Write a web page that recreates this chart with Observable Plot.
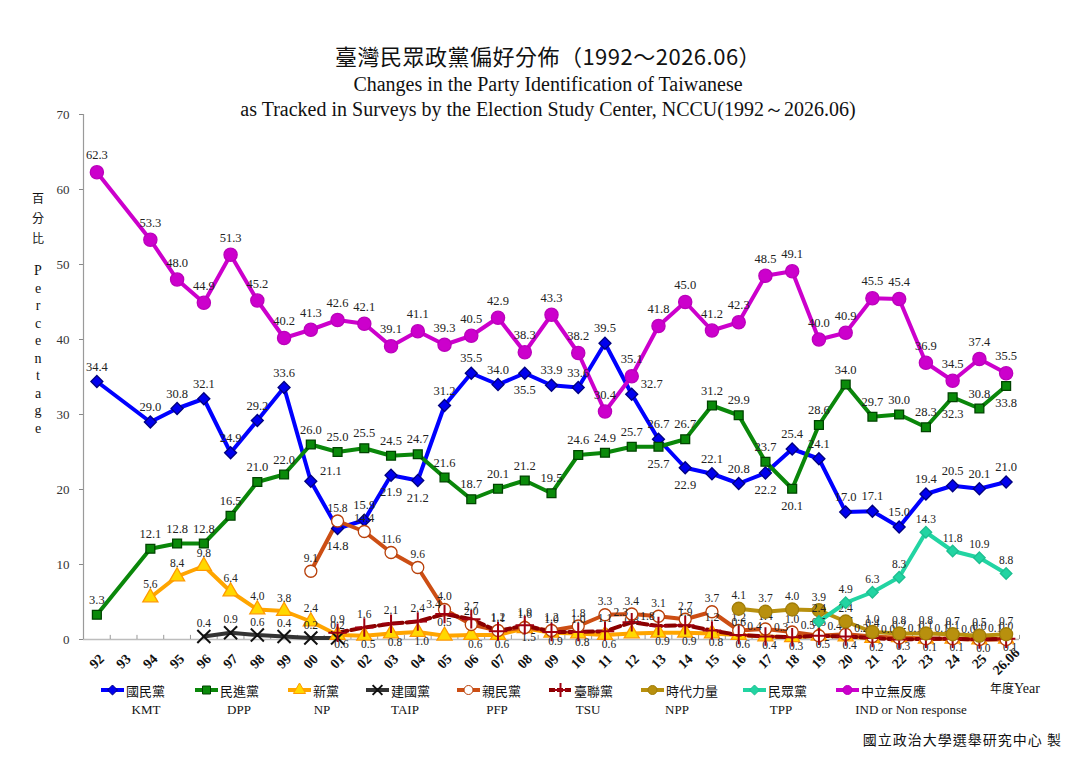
<!DOCTYPE html>
<html>
<head>
<meta charset="utf-8">
<script src="https://cdn.jsdelivr.net/npm/d3@7"></script>
<script src="https://cdn.jsdelivr.net/npm/@observablehq/plot@0.6"></script>
<style>
  body { margin: 0; background: #fff; }
  #wrap { position: relative; width: 1080px; height: 764px; overflow: hidden; font-family: "Liberation Serif", "Times New Roman", serif; color: #111; }
  #chart { position: absolute; left: 0; top: 0; }
  .abs { position: absolute; white-space: nowrap; }
  .title { left: 0; width: 1096px; text-align: center; }
  .cjk { font-family: "Noto Sans CJK TC", "Noto Sans CJK SC", sans-serif; }
  .leg { position: absolute; top: 681px; height: 18px; display: flex; align-items: center; font-size: 13px; }
  .legen { position: absolute; top: 702px; font-size: 13px; transform: translateX(-50%); white-space: nowrap; }
</style>
</head>
<body>
<div id="wrap">
  <div id="chart"></div>
  <div class="abs title cjk" style="top:39px;font-size:22px;letter-spacing:0.5px;">臺灣民眾政黨偏好分佈（1992～2026.06）</div>
  <div class="abs title" style="top:73px;font-size:20px;">Changes in the Party Identification of Taiwanese</div>
  <div class="abs title" style="top:96px;font-size:20px;">as Tracked in Surveys by the Election Study Center, NCCU(1992～2026.06)</div>
  <div class="abs cjk" style="left:31px;top:188px;font-size:12px;line-height:20px;text-align:center;width:14px;">百<br>分<br>比</div>
  <div class="abs" style="left:31px;top:262px;font-size:14px;line-height:17.5px;text-align:center;width:14px;">P<br>e<br>r<br>c<br>e<br>n<br>t<br>a<br>g<br>e</div>
  <div class="abs" style="left:990px;top:679px;font-size:14px;"><span class="cjk" style="font-size:12px;">年度</span>Year</div>
  <div id="legend"></div>
  <div class="abs cjk" style="right:18px;top:729px;font-size:14px;letter-spacing:1px;">國立政治大學選舉研究中心 製</div>
</div>
<script>
const N = null;
const cats = ["92","93","94","95","96","97","98","99","00","01","02","03","04","05","06","07","08","09","10","11","12","13","14","15","16","17","18","19","20","21","22","23","24","25","26.06"];

const kmtVals = [34.4,N,29.0,30.8,32.1,24.9,29.2,33.6,21.1,14.8,15.9,21.9,21.2,31.2,35.5,34.0,35.5,33.9,33.6,39.5,32.7,26.7,22.9,22.1,20.8,22.2,25.4,24.1,17.0,17.1,15.0,19.4,20.5,20.1,21.0];
const dppVals = [3.3,N,12.1,12.8,12.8,16.5,21.0,22.0,26.0,25.0,25.5,24.5,24.7,21.6,18.7,20.1,21.2,19.5,24.6,24.9,25.7,25.7,26.7,31.2,29.9,23.7,20.1,28.6,34.0,29.7,30.0,28.3,32.3,30.8,33.8];
const npVals  = [N,N,5.6,8.4,9.8,6.4,4.0,3.8,2.4,0.6,0.5,0.8,1.0,0.5,0.6,0.6,1.5,0.9,0.8,0.6,0.8,0.9,0.9,0.8,0.6,0.4,0.3,0.5,0.4,0.2,0.3,0.1,0.1,0.0,0.1];
const taipVals= [N,N,N,N,0.4,0.9,0.6,0.4,0.2,0.2,N,N,N,N,N,N,N,N,N,N,N,N,N,N,N,N,N,N,N,N,N,N,N,N,N];
const pfpVals = [N,N,N,N,N,N,N,N,9.1,15.8,14.4,11.6,9.6,4.0,2.0,1.2,1.6,1.2,1.8,3.3,3.4,3.1,2.7,3.7,1.2,1.4,1.0,0.5,0.7,0.4,0.2,0.1,0.1,0.0,0.0];
const tsuVals = [N,N,N,N,N,N,N,N,N,0.9,1.6,2.1,2.4,3.4,2.7,1.1,1.9,1.0,1.0,1.1,2.3,1.8,1.9,1.2,0.6,0.4,0.3,0.5,0.4,0.2,0.0,0.1,0.1,0.0,0.1];
const nppVals = [N,N,N,N,N,N,N,N,N,N,N,N,N,N,N,N,N,N,N,N,N,N,N,N,4.1,3.7,4.0,3.9,2.4,1.0,0.8,0.8,0.7,0.5,0.7];
const tppVals = [N,N,N,N,N,N,N,N,N,N,N,N,N,N,N,N,N,N,N,N,N,N,N,N,N,N,N,2.4,4.9,6.3,8.3,14.3,11.8,10.9,8.8];
const indVals = [62.3,N,53.3,48.0,44.9,51.3,45.2,40.2,41.3,42.6,42.1,39.1,41.1,39.3,40.5,42.9,38.3,43.3,38.2,30.4,35.1,41.8,45.0,41.2,42.3,48.5,49.1,40.0,40.9,45.5,45.4,36.9,34.5,37.4,35.5];

const yTicks = [0,10,20,30,40,50,60,70];
// label placement (category lists)
const kmtBelow = ["01","03","04","08","14","17"];
const kmtRight = ["00","12"];
const dppBelow = ["13","18","24","26.06"];
const npBelow = ["01","02","03","04","06","07","08","09","10","11","13","14","15","16","17","18","19","20","21","22","23","24","25","26.06"];
const tsuLeft = ["05","12","13","17","18","19","20","21","22","23","24","25","26.06"];

const series = [
  {key:"KMT",  zh:"國民黨",     en:"KMT",  vals:kmtVals,  line:"#0000FF", symbol:"diamond2", fill:"#0000EE", stroke:"#000080", r:5.4, big:true,  below:kmtBelow, right:kmtRight},
  {key:"DPP",  zh:"民進黨",     en:"DPP",  vals:dppVals,  line:"#0A870A", symbol:"square",   fill:"#0A8A0A", stroke:"#004400", r:5.0, big:true,  below:dppBelow},
  {key:"NP",   zh:"新黨",       en:"NP",   vals:npVals,   line:"#FFA500", symbol:"triangle", fill:"#FFD800", stroke:"#FF9900", r:5.6, big:false, below:npBelow},
  {key:"TAIP", zh:"建國黨",     en:"TAIP", vals:taipVals, line:"#333333", symbol:"times",    fill:"none",    stroke:"#111111", r:6.0, big:false},
  {key:"PFP",  zh:"親民黨",     en:"PFP",  vals:pfpVals,  line:"#CC4E14", symbol:"circle",   fill:"#FFFFFF", stroke:"#B8400A", r:6.0, big:false},
  {key:"TSU",  zh:"臺聯黨",     en:"TSU",  vals:tsuVals,  line:"#8B0000", symbol:"plus",     fill:"none",    stroke:"#A00010", r:6.0, big:false, left:tsuLeft, dash:"10,4"},
  {key:"NPP",  zh:"時代力量",   en:"NPP",  vals:nppVals,  line:"#B8900E", symbol:"circle",   fill:"#B8900E", stroke:"#A07C08", r:6.5, big:false},
  {key:"TPP",  zh:"民眾黨",     en:"TPP",  vals:tppVals,  line:"#22D4A2", symbol:"diamond2", fill:"#22D4A2", stroke:"#1CBF90", r:5.2, big:false},
  {key:"IND",  zh:"中立無反應", en:"IND or Non response", vals:indVals, line:"#CC00CC", symbol:"circle", fill:"#CC00CC", stroke:"#BB00BB", r:6.6, big:true}
];

const boundaries = cats.map((c, i) => i + 0.5);
const catRows = cats.map((c, i) => ({c, i}));

const marks = [
  Plot.ruleY([0], {stroke: "#BDBDBD", strokeWidth: 1.5}),
  Plot.ruleX(boundaries, {x: d => d, y1: 0, y2: 0.55, stroke: "#999"}),
  Plot.axisY({ticks: yTicks, tickSize: 4, tickPadding: 10, label: null, fontSize: 13, stroke: "#888", fill: "#333"}),
  Plot.ruleX([-0.5], {stroke: "#9A9A9A", strokeWidth: 1.2}),
  Plot.text(catRows, {x: "i", y: 0, text: "c", dy: 22, rotate: -45, fontSize: 14, fontWeight: "bold", fill: "#111", textAnchor: "middle"})
];

const rowsOf = s => s.vals.map((v, i) => ({i, v, c: cats[i]})).filter(d => d.v !== null);

for (const s of series) {
  marks.push(Plot.line(rowsOf(s), {x: "i", y: "v", stroke: s.line, strokeWidth: 4, strokeDasharray: s.dash, strokeLinejoin: "round"}));
}
for (const s of series) {
  const rows = rowsOf(s);
  marks.push(Plot.dot(rows, {x: "i", y: "v", symbol: () => s.symbol, r: s.r, fill: s.fill, stroke: s.stroke,
    strokeWidth: (s.symbol === "times" || s.symbol === "plus") ? 2 : 1.3}));
  const below = s.below || [], right = s.right || [], left = s.left || [];
  const fs = s.big ? 12.5 : 11.5;
  const lab = d => d.v.toFixed(1);
  const aboveRows = rows.filter(d => !below.includes(d.c) && !right.includes(d.c) && !left.includes(d.c));
  marks.push(Plot.text(aboveRows, {x: "i", y: "v", text: lab, dy: s.key === "IND" ? -17 : (s.big ? -15 : -13), fontSize: fs, fill: "#222"}));
  marks.push(Plot.text(rows.filter(d => below.includes(d.c)), {x: "i", y: "v", text: lab, dy: s.big ? 17 : 9, dx: s.big ? 0 : 4, fontSize: fs, fill: "#222"}));
  marks.push(Plot.text(rows.filter(d => right.includes(d.c)), {x: "i", y: "v", text: lab, dx: 20, dy: -10, fontSize: fs, fill: "#222"}));
  marks.push(Plot.text(rows.filter(d => left.includes(d.c)), {x: "i", y: "v", text: lab, dx: -11, dy: -10, fontSize: fs, fill: "#222"}));
}

const chart = Plot.plot({
  width: 1080,
  height: 764,
  marginLeft: 83,
  marginRight: 61,
  marginTop: 114,
  marginBottom: 125,
  x: {type: "linear", domain: [-0.5, 34.5], axis: null},
  y: {type: "linear", domain: [0, 70], axis: null},
  symbol: {type: "identity"},
  style: {fontFamily: "'Liberation Serif', 'Times New Roman', serif", background: "transparent", overflow: "visible"},
  marks
});
document.getElementById("chart").appendChild(chart);

// legend
const legX = [100, 194, 287, 365, 456, 548, 640, 742, 835];
const legEnX = [146, 239, 322, 405, 497, 588, 677, 781, 911];
const legend = document.getElementById("legend");
const symMap = {diamond2: d3.symbolDiamond2, square: d3.symbolSquare, triangle: d3.symbolTriangle, times: d3.symbolTimes, circle: d3.symbolCircle, plus: d3.symbolPlus};
series.forEach((s, k) => {
  const item = document.createElement("div");
  item.className = "leg";
  item.style.left = legX[k] + "px";
  const svg = d3.create("svg").attr("width", 25).attr("height", 14);
  svg.append("line").attr("x1", 1).attr("x2", 24).attr("y1", 7).attr("y2", 7)
    .attr("stroke", s.line).attr("stroke-width", 4).attr("stroke-dasharray", s.dash ? "6,2" : null);
  svg.append("path").attr("transform", "translate(12.5,7)")
    .attr("d", d3.symbol(symMap[s.symbol], 64)())
    .attr("fill", s.fill).attr("stroke", s.stroke)
    .attr("stroke-width", (s.symbol === "times" || s.symbol === "plus") ? 2 : 1);
  item.appendChild(svg.node());
  const zh = document.createElement("span");
  zh.className = "cjk";
  zh.style.marginLeft = "1px";
  zh.style.fontSize = "13px";
  zh.textContent = s.zh;
  item.appendChild(zh);
  legend.appendChild(item);
  const en = document.createElement("div");
  en.className = "legen";
  en.style.left = legEnX[k] + "px";
  en.textContent = s.en;
  legend.appendChild(en);
});
</script>
</body>
</html>
